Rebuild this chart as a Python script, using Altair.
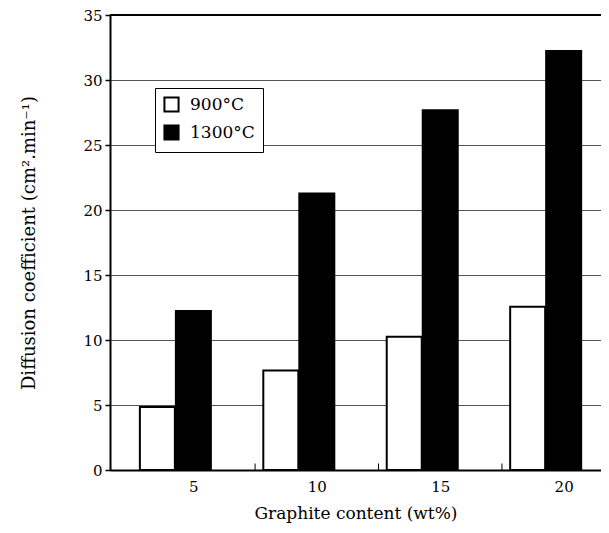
import altair as alt
import pandas as pd

# Data
contents = [5, 10, 15, 20]
d900 = [4.85, 7.65, 10.25, 12.55]
d1300 = [12.3, 21.35, 27.75, 32.3]
series_names = ["900°C", "1300°C"]
y_ticks = [0, 5, 10, 15, 20, 25, 30, 35]
minor_ticks = [7.5, 12.5, 17.5]
y_top = 35

rows = []
for c, a, b in zip(contents, d900, d1300):
    rows.append({"content": c, "value": a, "series": series_names[0]})
    rows.append({"content": c, "value": b, "series": series_names[1]})
df = pd.DataFrame(rows)
tick_df = pd.DataFrame({"t": minor_ticks, "y0": [0] * len(minor_ticks), "y1": [0.5] * len(minor_ticks)})
top_df = pd.DataFrame({"y": [y_top]})

FONT = "DejaVu Serif"

X_LO, X_HI = 1.825, 21.31
xscale = alt.Scale(domain=[X_LO, X_HI], nice=False, zero=False)
yscale = alt.Scale(domain=[0, y_top], nice=False)

fill = alt.Fill(
    "series:N",
    scale=alt.Scale(domain=series_names, range=["white", "black"]),
    legend=alt.Legend(
        title=None,
        orient="none",
        legendX=45,
        legendY=73,
        symbolType="square",
        symbolSize=200,
        symbolStrokeColor="black",
        symbolStrokeWidth=2,
        labelFont=FONT,
        labelFontSize=17,
        labelColor="black",
        labelOffset=10,
        rowPadding=5,
        padding=8,
        strokeColor="black",
        fillColor="white",
        cornerRadius=0,
    ),
)

xaxis = alt.Axis(
    values=contents,
    ticks=False,
    grid=False,
    labelFont=FONT,
    labelFontSize=15,
    labelColor="black",
    labelPadding=9,
    domainColor="black",
    domainWidth=2,
    title="Graphite content (wt%)",
    titleFont=FONT,
    titleFontSize=17,
    titleFontWeight="normal",
    titleColor="black",
    titlePadding=11,
)
yaxis = alt.Axis(
    values=y_ticks,
    tickSize=5,
    tickColor="black",
    tickWidth=1.5,
    labelFont=FONT,
    labelFontSize=15,
    labelColor="black",
    labelPadding=3,
    domainColor="black",
    domainWidth=2,
    grid=True,
    gridColor="#555555",
    gridWidth=1,
    title="Diffusion coefficient (cm².min⁻¹)",
    titleFont=FONT,
    titleFontSize=18,
    titleFontWeight="normal",
    titleColor="black",
    titlePadding=44,
)

base = alt.Chart(df)
white_bars = base.transform_filter(alt.datum.series == series_names[0]).mark_bar(
    width=35, xOffset=-36, stroke="black", strokeWidth=2
).encode(
    x=alt.X("content:Q", scale=xscale, axis=xaxis),
    y=alt.Y("value:Q", scale=yscale, axis=yaxis),
    fill=fill,
)
black_bars = base.transform_filter(alt.datum.series == series_names[1]).mark_bar(
    width=37, stroke="black", strokeWidth=0
).encode(
    x=alt.X("content:Q", scale=xscale),
    y=alt.Y("value:Q", scale=yscale),
    fill=fill,
)
ticks = alt.Chart(tick_df).mark_rule(color="black", strokeWidth=1).encode(
    x=alt.X("t:Q", scale=xscale),
    y=alt.Y("y0:Q", scale=yscale),
    y2="y1:Q",
)
top_border = alt.Chart(top_df).mark_rule(color="black", strokeWidth=2).encode(
    y=alt.Y("y:Q", scale=yscale),
)

chart = (
    alt.layer(white_bars, black_bars, ticks, top_border)
    .properties(
        width=491,
        height=455,
        autosize="none",
        padding={"left": 102, "top": 7, "right": 0, "bottom": 55},
        background="white",
    )
    .configure_view(stroke=None)
)

chart.save("out.html", embed_options={"renderer": "svg", "actions": False})
